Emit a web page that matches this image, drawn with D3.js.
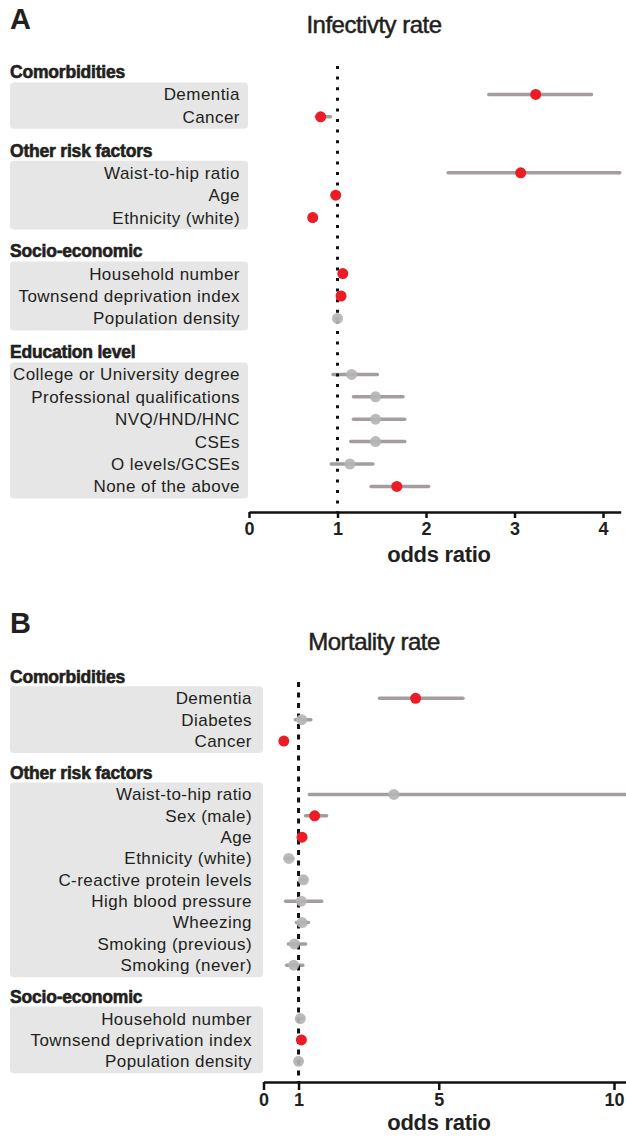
<!DOCTYPE html>
<html>
<head>
<meta charset="utf-8">
<script src="https://cdn.jsdelivr.net/npm/d3@7"></script>
<style>
    body { margin: 0; background: #fff; }
    svg text { font-family: "Liberation Sans", Arial, Helvetica, sans-serif; fill: #231f20; }
</style>
</head>
<body>
<div id="chart"></div>
<script>
// ---- Panel A: infectivity rate ----
const infectGroups = ["Comorbidities", "Other risk factors", "Socio-economic", "Education level"];
const infectLabels = ["Dementia", "Cancer", "Waist-to-hip ratio", "Age", "Ethnicity (white)",
    "Household number", "Townsend deprivation index", "Population density",
    "College or University degree", "Professional qualifications", "NVQ/HND/HNC", "CSEs",
    "O levels/GCSEs", "None of the above"];
const infectGroupOf = [0, 0, 1, 1, 1, 2, 2, 2, 3, 3, 3, 3, 3, 3];
const infectOR   = [3.24, 0.81, 3.07, 0.98, 0.72, 1.06, 1.04, 1.00, 1.16, 1.43, 1.43, 1.43, 1.14, 1.67];
const infectLow  = [2.71, 0.76, 2.25, 0.96, 0.70, 1.04, 1.02, 0.99, 0.95, 1.18, 1.18, 1.15, 0.93, 1.38];
const infectHigh = [3.87, 0.92, 4.19, 1.00, 0.75, 1.08, 1.06, 1.01, 1.45, 1.74, 1.76, 1.76, 1.40, 2.03];
const infectSig  = [1, 1, 1, 1, 1, 1, 1, 0, 0, 0, 0, 0, 0, 1];
const infectTicks = [0, 1, 2, 3, 4];

// ---- Panel B: mortality rate ----
const mortGroups = ["Comorbidities", "Other risk factors", "Socio-economic"];
const mortLabels = ["Dementia", "Diabetes", "Cancer", "Waist-to-hip ratio", "Sex (male)", "Age",
    "Ethnicity (white)", "C-reactive protein levels", "High blood pressure", "Wheezing",
    "Smoking (previous)", "Smoking (never)", "Household number", "Townsend deprivation index",
    "Population density"];
const mortGroupOf = [0, 0, 0, 1, 1, 1, 1, 1, 1, 1, 1, 1, 2, 2, 2];
const mortOR   = [4.34, 1.09, 0.58, 3.72, 1.46, 1.10, 0.72, 1.14, 1.08, 1.10, 0.88, 0.86, 1.05, 1.08, 1.00];
const mortLow  = [3.31, 0.91, 0.52, 1.31, 1.20, 1.06, 0.62, 1.06, 0.63, 0.94, 0.71, 0.66, 0.98, 1.02, 0.94];
const mortHigh = [5.69, 1.35, 0.66, 10.6, 1.80, 1.15, 0.84, 1.22, 1.66, 1.28, 1.20, 1.12, 1.12, 1.14, 1.06];
const mortSig  = [1, 0, 1, 0, 1, 1, 0, 0, 0, 0, 0, 0, 0, 1, 0];
const mortTicks = [0, 1, 5, 10];

class ForestPanel {
    constructor(svg, data, opts) {
        this.svg = svg;
        this.data = data;
        this.opts = opts;

        // colours
        this.sigColor = "#ec1c24";
        this.nsColor = "#b5b5b5";
        this.ciColor = "#a59d9d";
        this.boxColor = "#e6e6e6";

        this.layout();
        this.draw();
    }

    // work out a slot index for each header and row
    layout() {
        const d = this.data;
        this.headerSlots = [];
        this.rowSlots = [];
        let slot = 0;
        d.groups.forEach((g, gi) => {
            if (gi > 0) slot += 1.5;
            this.headerSlots.push(slot);
            d.groupOf.forEach((k, i) => {
                if (k === gi) { slot += 1; this.rowSlots[i] = slot; }
            });
        });

        const o = this.opts;
        this.y = d3.scaleLinear().domain([0, 1]).range([o.y0, o.y0 + o.step]);
        this.x = d3.scaleLinear().domain([0, o.xMax]).range([o.x0, o.x0 + o.xMax * o.unit]);
    }

    draw() {
        const d = this.data, o = this.opts, x = this.x, y = this.y;
        const g = this.svg.append("g");

        // panel letter and title
        g.append("text").attr("x", 10).attr("y", o.letterY)
            .attr("font-size", 29).attr("font-weight", "bold").text(o.letter);
        g.append("text").attr("x", 374).attr("y", o.titleY)
            .attr("text-anchor", "middle").attr("font-size", 24)
            .attr("stroke", "#231f20").attr("stroke-width", 0.5)
            .attr("letter-spacing", -0.5).text(o.title);

        // grey boxes behind each group's row labels
        d.groups.forEach((name, gi) => {
            const idx = d.groupOf.map((k, i) => k === gi ? i : -1).filter(i => i >= 0);
            const top = y(this.rowSlots[idx[0]]) - 12;
            const bot = y(this.rowSlots[idx[idx.length - 1]]) + 12;
            g.append("rect")
                .attr("x", 10).attr("y", top)
                .attr("width", o.boxRight - 10).attr("height", bot - top)
                .attr("rx", 4).attr("fill", this.boxColor);
            g.append("text")
                .attr("x", 10).attr("y", y(this.headerSlots[gi])).attr("dy", "0.35em")
                .attr("font-size", 17.5).attr("font-weight", "bold")
                .attr("stroke", "#231f20").attr("stroke-width", 0.6)
                .attr("letter-spacing", -0.2).text(name);
        });

        // row labels
        g.selectAll(".row-label")
            .data(d.labels)
            .enter()
            .append("text")
            .attr("class", "row-label")
            .attr("x", o.labelRight)
            .attr("y", (t, i) => y(this.rowSlots[i]))
            .attr("dy", "0.35em")
            .attr("text-anchor", "end")
            .attr("font-size", 17)
            .attr("letter-spacing", 0.45)
            .text(t => t);

        // x axis
        const axis = g.append("g")
            .attr("transform", `translate(0,${o.axisY})`)
            .call(d3.axisBottom(x).tickValues(o.ticks).tickFormat(d3.format("d"))
                .tickSize(o.tickSize).tickSizeOuter(0).tickPadding(o.tickPad));
        axis.select(".domain").attr("stroke", "#111").attr("stroke-width", 2.5);
        axis.selectAll(".tick line").attr("stroke", "#111").attr("stroke-width", 2.5);
        axis.selectAll(".tick text")
            .attr("font-size", 18).attr("font-weight", "bold")
            .attr("font-family", "'Liberation Sans', Arial, sans-serif").attr("fill", "#111");

        g.append("text").attr("x", 439).attr("y", o.oddsY)
            .attr("text-anchor", "middle").attr("font-size", 22).attr("font-weight", "bold")
            .attr("letter-spacing", -0.3).text("odds ratio");

        // confidence intervals
        g.selectAll(".ci")
            .data(d.or)
            .enter()
            .append("line")
            .attr("class", "ci")
            .attr("x1", (v, i) => x(d.low[i]))
            .attr("x2", (v, i) => x(d.high[i]))
            .attr("y1", (v, i) => y(this.rowSlots[i]))
            .attr("y2", (v, i) => y(this.rowSlots[i]))
            .attr("stroke", this.ciColor)
            .attr("stroke-width", 3.5)
            .attr("stroke-linecap", "round");

        // reference line at odds ratio = 1
        g.append("line")
            .attr("x1", x(1)).attr("x2", x(1))
            .attr("y1", o.refTop).attr("y2", o.axisY)
            .attr("stroke", "#111").attr("stroke-width", 3)
            .attr("stroke-dasharray", o.refDash);

        // point estimates
        g.selectAll(".pt")
            .data(d.or)
            .enter()
            .append("circle")
            .attr("class", "pt")
            .attr("cx", v => x(v))
            .attr("cy", (v, i) => y(this.rowSlots[i]))
            .attr("r", 5.5)
            .attr("fill", (v, i) => d.sig[i] ? this.sigColor : this.nsColor)
            .attr("fill-opacity", (v, i) => d.sig[i] ? 1 : 0.92);
    }
}

const svg = d3.select("#chart").append("svg")
    .attr("width", 626).attr("height", 1137);

new ForestPanel(svg, {
    groups: infectGroups, labels: infectLabels, groupOf: infectGroupOf,
    or: infectOR, low: infectLow, high: infectHigh, sig: infectSig
}, {
    letter: "A", letterY: 29, title: "Infectivty rate", titleY: 33,
    x0: 249, unit: 88.5, xMax: 4.2, ticks: infectTicks,
    y0: 72, step: 22.4, boxRight: 248, labelRight: 240,
    axisY: 512, tickSize: 6, tickPad: 4, oddsY: 562,
    refTop: 66, refDash: "3,7.6"
});

new ForestPanel(svg, {
    groups: mortGroups, labels: mortLabels, groupOf: mortGroupOf,
    or: mortOR, low: mortLow, high: mortHigh, sig: mortSig
}, {
    letter: "B", letterY: 633, title: "Mortality rate", titleY: 650,
    x0: 263.5, unit: 35.05, xMax: 10.4, ticks: mortTicks,
    y0: 677, step: 21.35, boxRight: 263, labelRight: 252,
    axisY: 1082, tickSize: 8, tickPad: 3, oddsY: 1130,
    refTop: 682, refDash: "5,5.5"
});
</script>
</body>
</html>
